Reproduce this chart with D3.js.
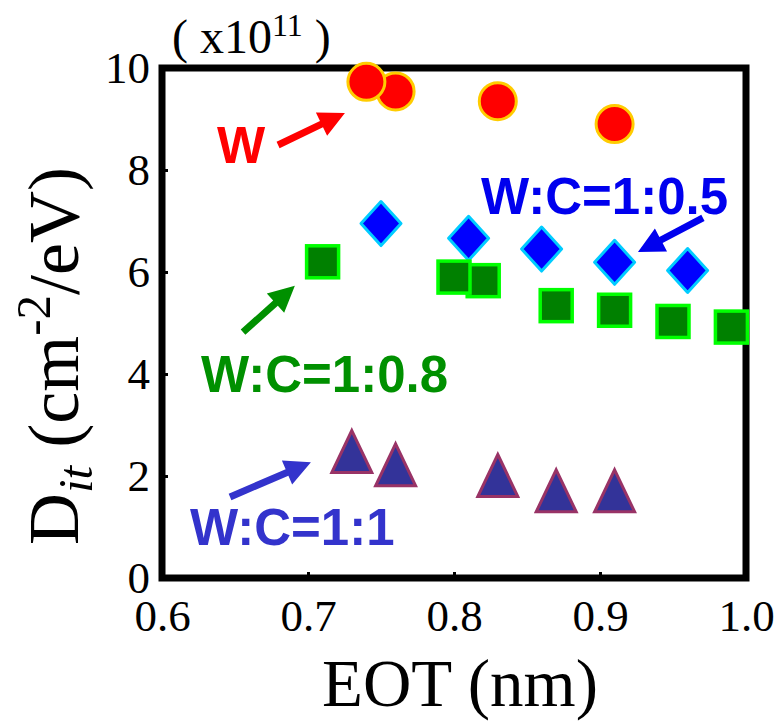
<!DOCTYPE html>
<html>
<head>
<meta charset="utf-8">
<script src="https://d3js.org/d3.v7.min.js"></script>
<style>
  html, body { margin: 0; padding: 0; background: #fff; }
  svg { display: block; }
</style>
</head>
<body>
<svg id="chart" width="778" height="727"></svg>
<script>
// Interface trap density (×10^11 cm^-2/eV) against EOT (nm) for four W:C ratios.
const xTicks = [0.6, 0.7, 0.8, 0.9, 1.0];
const yTicks = [0, 2, 4, 6, 8, 10];

const eotW   = [0.74, 0.76, 0.83, 0.91];
const ditW   = [9.73, 9.54, 9.35, 8.90];

const eot05  = [0.75, 0.81, 0.86, 0.91, 0.96];
const dit05  = [6.95, 6.66, 6.45, 6.19, 6.03];

const eot08  = [0.71, 0.80, 0.82, 0.87, 0.91, 0.95, 0.99];
const dit08  = [6.20, 5.90, 5.83, 5.34, 5.25, 5.03, 4.92];

const eot11  = [0.73, 0.76, 0.83, 0.87, 0.91];
const dit11  = [2.48, 2.22, 2.01, 1.71, 1.71];

// Series labels with their arrows (data units: text start, arrow tail, arrow tip)
const labelNames = ["W", "W:C=1:0.5", "W:C=1:0.8", "W:C=1:1"];
const labelPos   = [[0.6377, 8.14], [0.8185, 7.14], [0.6267, 3.65], [0.6192, 0.65]];
const arrowTail  = [[0.6795, 8.49], [0.9705, 7.06], [0.6555, 4.82], [0.6466, 1.59]];
const arrowTip   = [[0.7253, 9.12], [0.9260, 6.39], [0.6910, 5.73], [0.7020, 2.27]];
const labelColor = ["#ff0000", "#0000ee", "#009000", "#3333cc"];

const svg = d3.select("#chart");
const plotL = 162, plotR = 746, plotT = 68, plotB = 578;

const x = d3.scaleLinear().domain([0.6, 1.0]).range([plotL, plotR]);
const y = d3.scaleLinear().domain([0, 10]).range([plotB, plotT]);

const serif = "'Liberation Serif', 'Times New Roman', serif";
const sans  = "'Liberation Sans', Arial, sans-serif";

// Axes: inward ticks, labels outside the frame
const xAxis = d3.axisBottom(x).tickValues(xTicks).tickFormat(d3.format(".1f"))
  .tickSizeInner(-6).tickSizeOuter(0).tickPadding(21);
const yAxis = d3.axisLeft(y).tickValues(yTicks).tickFormat(d3.format("d"))
  .tickSizeInner(-6).tickSizeOuter(0).tickPadding(12);

const gx = svg.append("g").attr("transform", `translate(0,${plotB})`).call(xAxis);
const gy = svg.append("g").attr("transform", `translate(${plotL},0)`).call(yAxis);
[gx, gy].forEach(g => {
  g.select(".domain").remove();
  g.selectAll(".tick line").attr("stroke", "#000").attr("stroke-width", 3);
  g.selectAll(".tick text").attr("fill", "#000")
    .style("font-family", serif).style("font-size", "45px");
});
gx.selectAll(".tick").filter(d => d === 0.6 || d === 1.0).select("line").remove();
gy.selectAll(".tick").filter(d => d === 0 || d === 10).select("line").remove();

// Frame
svg.append("rect")
  .attr("x", plotL).attr("y", plotT)
  .attr("width", plotR - plotL).attr("height", plotB - plotT)
  .attr("fill", "none").attr("stroke", "#000").attr("stroke-width", 7);

// Marker shapes
const pts = (xs, ys) => xs.map((v, i) => [v, ys[i]]).reverse();
const diamondPath = "M0,-22L20,0L0,22L-20,0Z";
const trianglePath = "M0,-21L20,21L-20,21Z";

// W: circles
svg.append("g").selectAll("circle").data(pts(eotW, ditW)).join("circle")
  .attr("cx", d => x(d[0])).attr("cy", d => y(d[1])).attr("r", 18.5)
  .attr("fill", "#ff0000").attr("stroke", "#ffcc00").attr("stroke-width", 3);

// W:C = 1:0.5: diamonds
svg.append("g").selectAll("path").data(pts(eot05, dit05)).join("path")
  .attr("d", diamondPath)
  .attr("transform", d => `translate(${x(d[0])},${y(d[1])})`)
  .attr("fill", "#0000ff").attr("stroke", "#00ccff").attr("stroke-width", 3)
  .attr("stroke-linejoin", "round");

// W:C = 1:0.8: squares
svg.append("g").selectAll("rect").data(pts(eot08, dit08)).join("rect")
  .attr("x", d => x(d[0]) - 16).attr("y", d => y(d[1]) - 16)
  .attr("width", 32).attr("height", 32)
  .attr("fill", "#008000").attr("stroke", "#00ff00").attr("stroke-width", 3.5);

// W:C = 1:1: triangles
svg.append("g").selectAll("path").data(pts(eot11, dit11)).join("path")
  .attr("d", trianglePath)
  .attr("transform", d => `translate(${x(d[0])},${y(d[1])})`)
  .attr("fill", "#333399").attr("stroke", "#993366").attr("stroke-width", 3);

// Arrows and series labels
function arrowShape(t, h) {
  const x0 = x(t[0]), y0 = y(t[1]), x1 = x(h[0]), y1 = y(h[1]);
  const dx = x1 - x0, dy = y1 - y0, len = Math.hypot(dx, dy);
  const ux = dx / len, uy = dy / len, nx = -uy, ny = ux;
  const hl = 26, hw = 13, sw = 3.5;
  const bx = x1 - ux * hl, by = y1 - uy * hl;
  return [
    [x0 + nx * sw, y0 + ny * sw], [bx + nx * sw, by + ny * sw],
    [bx + nx * hw, by + ny * hw], [x1, y1],
    [bx - nx * hw, by - ny * hw], [bx - nx * sw, by - ny * sw],
    [x0 - nx * sw, y0 - ny * sw]
  ];
}
const ann = svg.append("g");
labelNames.forEach((name, i) => {
  ann.append("path")
    .attr("d", d3.line()(arrowShape(arrowTail[i], arrowTip[i])) + "Z")
    .attr("fill", labelColor[i]);
  ann.append("text")
    .attr("x", x(labelPos[i][0])).attr("y", y(labelPos[i][1]))
    .attr("fill", labelColor[i])
    .style("font-family", sans).style("font-weight", "bold").style("font-size", "51px")
    .text(name);
});

// Scale factor note above the frame
const sf = svg.append("text").attr("x", 172).attr("y", 53)
  .style("font-family", serif).style("font-size", "48px").attr("fill", "#000");
sf.append("tspan").text("( x10");
sf.append("tspan").attr("dy", -17).style("font-size", "32px").text("11");
sf.append("tspan").attr("dy", 17).text(" )");

// Axis titles
svg.append("text")
  .attr("x", 460).attr("y", 706)
  .attr("text-anchor", "middle")
  .style("font-family", serif).style("font-size", "67px").attr("fill", "#000")
  .text("EOT (nm)");

const yt = svg.append("text")
  .attr("transform", "translate(78,545) rotate(-90)")
  .attr("text-anchor", "start")
  .style("font-family", serif).style("font-size", "72px").attr("fill", "#000");
yt.append("tspan").text("D");
yt.append("tspan").attr("dy", 14).style("font-size", "49px").style("font-style", "italic").text("it");
yt.append("tspan").attr("dy", -14).text(" (cm");
yt.append("tspan").attr("dy", -28).style("font-size", "49px").text("-2");
yt.append("tspan").attr("dy", 28).text("/eV)");
</script>
</body>
</html>
